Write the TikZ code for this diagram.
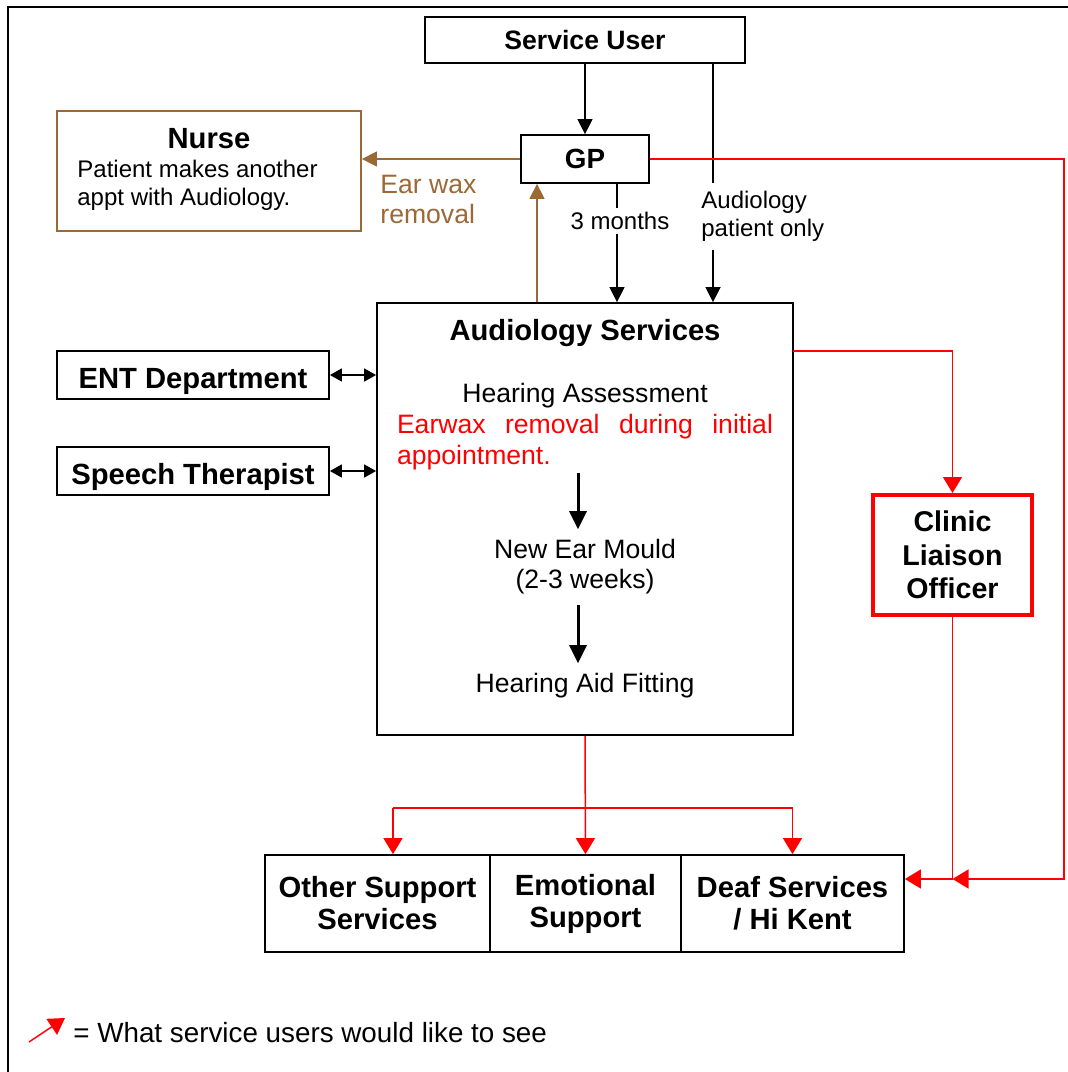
\documentclass[tikz,border=0pt]{standalone}
\usepackage{fontspec}
\setmainfont{Liberation Sans}
\usetikzlibrary{arrows.meta}

\definecolor{nursebrown}{RGB}{155,105,55}
\definecolor{wishred}{RGB}{255,0,0}

\newcommand{\headfont}{\fontsize{14.6}{16}\selectfont\bfseries}
\newcommand{\bodyfont}{\fontsize{13.3}{15}\selectfont}
\newcommand{\smallfont}{\fontsize{12}{14}\selectfont}

\tikzset{
  box/.style={draw, line width=0.9pt, inner sep=0pt, align=center, font=\headfont},
  txt/.style={inner sep=0pt, align=center, font=\bodyfont},
  link/.style={line width=0.75pt},
  arr/.style={link, -{Triangle[length=7.5pt,width=7.5pt]}},
  rarr/.style={link, wishred, -{Triangle[length=8pt,width=9.5pt]}},
  barr/.style={arr, nursebrown},
  darr/.style={link, {Triangle[length=6pt,width=6.5pt]}-{Triangle[length=6pt,width=6.5pt]}},
  bigarr/.style={line width=1.5pt, -{Triangle[length=9pt,width=8.5pt]}}
}

\begin{document}
\begin{tikzpicture}[x=0.5pt,y=-0.5pt]
\useasboundingbox (0,0) rectangle (1068,1072);
\draw[line width=1pt] (8,1072) -- (8,7) -- (1068,7);

% top row
\node[box, minimum width=160pt, minimum height=23pt, font=\fontsize{13.3}{15}\selectfont\bfseries] (user) at (585,40) {Service User};
\node[box, minimum width=64pt, minimum height=24pt, font=\fontsize{13.9}{16}\selectfont\bfseries] (gp) at (585,159) {GP};
\node[box, draw=nursebrown, minimum width=152pt, minimum height=60pt] (nurse) at (209,171) {};
\node[font=\headfont, inner sep=0pt] (nurseT) at (209,139) {Nurse};
\node[txt, font=\smallfont, align=left, anchor=west] (nurseB) at (77,185) {Patient makes another\\appt with Audiology.};

% audiology box
\node[box, minimum width=208pt, minimum height=216pt] (audio) at (585,519) {};
\node[font=\headfont, inner sep=0pt] (audioT) at (585,333) {Audiology Services};
\node[txt] (assess) at (585,396) {Hearing Assessment};
\node[txt, text=wishred, text width=188pt, align=justify, anchor=north, inner ysep=1pt,
      font=\fontsize{13.3}{15.5}\selectfont] (wax) at (585,412) {Earwax removal during initial appointment.};
\node[txt, inner ysep=5pt] (mould) at (585,567) {New Ear Mould\\(2-3 weeks)};
\node[txt, inner ysep=5pt] (fitting) at (585,686) {Hearing Aid Fitting};
\coordinate (kx) at (578,0);
\draw[bigarr] (wax.south -| kx) -- (mould.north -| kx);
\draw[bigarr] (mould.south -| kx) -- (fitting.north -| kx);

% left side
\node[box, minimum width=136pt, minimum height=24pt, text height=13pt, text depth=0pt] (ent) at (193,375) {ENT Department};
\node[box, minimum width=136pt, minimum height=24pt, text height=13pt, text depth=0pt] (speech) at (193,471) {Speech Therapist};
\draw[darr] (ent.east) -- (audio.west |- ent.east);
\draw[darr] (speech.east) -- (audio.west |- speech.east);

% right side
\node[box, draw=wishred, line width=2pt, minimum width=79.5pt, minimum height=60pt,
      font=\fontsize{14.3}{16.7}\selectfont\bfseries] (clo) at (952.5,555) {Clinic\\Liaison\\Officer};

% bottom row
\node[box, minimum width=112.5pt, minimum height=48.5pt] (other) at (377.5,903.5) {Other Support\\Services};
\node[box, minimum width=95.5pt, minimum height=48.5pt] (emo) at (585.5,903.5) {Emotional\\Support};
\node[box, minimum width=111.5pt, minimum height=48.5pt] (deaf) at (792.5,903.5) {Deaf Services\\/ Hi Kent};

% black links
\draw[arr] (user.south) -- (gp.north);
\coordinate (apx) at (713,0);
\node[txt, font=\smallfont, align=left, anchor=north west, inner xsep=0pt, inner ysep=4pt] (aponly) at (701,183) {Audiology\\patient only};
\draw[link] (apx |- user.south) -- (apx |- aponly.north);
\draw[arr] (apx |- aponly.south) -- (apx |- audio.north);
\coordinate (mx) at (617,0);
\node[txt, font=\smallfont, inner ysep=2pt] (months) at (620,221) {3 months};
\draw[link] (gp.south -| mx) -- (months.north -| mx);
\draw[arr] (months.south -| mx) -- (audio.north -| mx);

% brown links
\coordinate (wx) at (537,0);
\draw[barr] (audio.north -| wx) -- (gp.south -| wx);
\draw[barr] (gp.west) -- (nurse.east |- gp.west);
\node[txt, text=nursebrown, align=left, anchor=north west] (earwax) at (380,175) {Ear wax\\removal};

% red links
\coordinate (rc) at (1064,879);
\draw[rarr] (gp.east) -| (rc) -- (clo.south |- rc);
\draw[rarr] (clo.south) |- (deaf.east |- rc);
\coordinate (a1) at (793,351);
\draw[rarr] (a1) -| (clo.north);
\draw[rarr] (audio.south) -- (emo.north);
\coordinate (sl) at (393,808);
\draw[rarr] (sl) -| (deaf.north);
\draw[rarr] (sl) -- (sl |- other.north);

% legend
\coordinate (l0) at (29,1042);
\coordinate (l1) at (65,1018);
\draw[rarr] (l0) -- (l1);
\node[anchor=west, inner sep=0pt, font=\fontsize{13.9}{16}\selectfont] (legend) at (73,1033) {= What service users would like to see};
\end{tikzpicture}
\end{document}
